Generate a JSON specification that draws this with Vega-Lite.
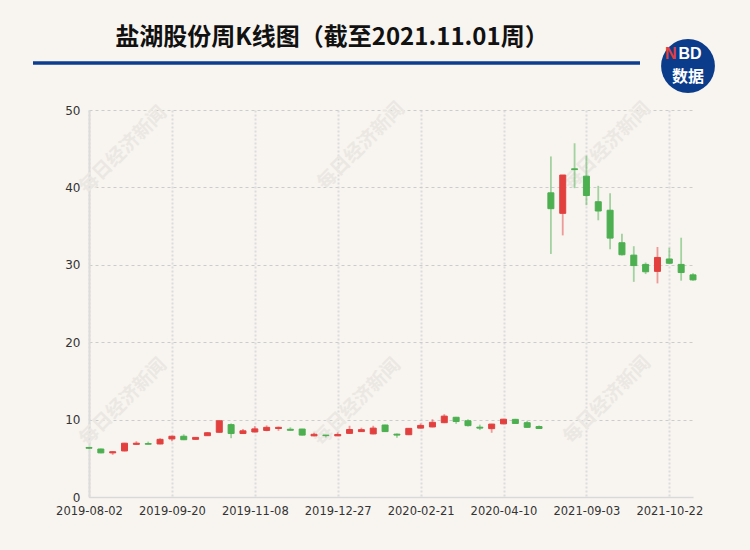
{
  "$schema": "https://vega.github.io/schema/vega-lite/v6.json",
  "autosize": "none",
  "width": 604,
  "height": 387,
  "padding": {"left": 89, "top": 110, "right": 57, "bottom": 53},
  "background": "#f8f5f0",
  "config": {"view": {"stroke": null}},
  "data": {
    "values": [
      {"d": "2019-08-02", "o": 6.4, "c": 6.3, "h": 6.45, "l": 6.2},
      {"d": "2019-08-09", "o": 6.2, "c": 5.7, "h": 6.25, "l": 5.65},
      {"d": "2019-08-16", "o": 5.7, "c": 5.85, "h": 5.9, "l": 5.45},
      {"d": "2019-08-23", "o": 5.95, "c": 6.95, "h": 7.0, "l": 5.9},
      {"d": "2019-08-30", "o": 6.8, "c": 6.95, "h": 7.2, "l": 6.75},
      {"d": "2019-09-06", "o": 6.9, "c": 6.82, "h": 7.15, "l": 6.8},
      {"d": "2019-09-13", "o": 6.85, "c": 7.45, "h": 7.6, "l": 6.8},
      {"d": "2019-09-20", "o": 7.5, "c": 7.85, "h": 7.9, "l": 7.2},
      {"d": "2019-09-27", "o": 7.85, "c": 7.4, "h": 8.1, "l": 7.35},
      {"d": "2019-09-30", "o": 7.45, "c": 7.7, "h": 7.72, "l": 7.42},
      {"d": "2019-10-11", "o": 7.92, "c": 8.3, "h": 8.4, "l": 7.9},
      {"d": "2019-10-18", "o": 8.36, "c": 9.85, "h": 9.9, "l": 8.3},
      {"d": "2019-10-25", "o": 9.35, "c": 8.2, "h": 9.5, "l": 7.6},
      {"d": "2019-11-01", "o": 8.2, "c": 8.55, "h": 8.8, "l": 8.15},
      {"d": "2019-11-08", "o": 8.4, "c": 8.8, "h": 9.15, "l": 8.35},
      {"d": "2019-11-15", "o": 8.6, "c": 9.0, "h": 9.25, "l": 8.5},
      {"d": "2019-11-22", "o": 8.85, "c": 9.0, "h": 9.1, "l": 8.55},
      {"d": "2019-11-29", "o": 8.75, "c": 8.62, "h": 9.0, "l": 8.6},
      {"d": "2019-12-06", "o": 8.78, "c": 8.0, "h": 8.8, "l": 7.95},
      {"d": "2019-12-13", "o": 7.9, "c": 8.1, "h": 8.3, "l": 7.85},
      {"d": "2019-12-20", "o": 8.0, "c": 7.93, "h": 8.02, "l": 7.7},
      {"d": "2019-12-27", "o": 7.9, "c": 8.08, "h": 8.35, "l": 7.88},
      {"d": "2020-01-03", "o": 8.22, "c": 8.72, "h": 9.2, "l": 8.15},
      {"d": "2020-01-10", "o": 8.45, "c": 8.7, "h": 8.95, "l": 8.4},
      {"d": "2020-01-17", "o": 8.15, "c": 8.9, "h": 9.2, "l": 8.1},
      {"d": "2020-01-23", "o": 9.3, "c": 8.45, "h": 9.35, "l": 8.4},
      {"d": "2020-02-07", "o": 8.12, "c": 8.0, "h": 8.2, "l": 7.65},
      {"d": "2020-02-14", "o": 8.05, "c": 8.87, "h": 8.9, "l": 8.0},
      {"d": "2020-02-21", "o": 8.9, "c": 9.25, "h": 9.5, "l": 8.85},
      {"d": "2020-02-28", "o": 9.05, "c": 9.65, "h": 10.05, "l": 9.0},
      {"d": "2020-03-06", "o": 9.6, "c": 10.45, "h": 10.7, "l": 9.55},
      {"d": "2020-03-13", "o": 10.3, "c": 9.75, "h": 10.35, "l": 9.45},
      {"d": "2020-03-20", "o": 9.85, "c": 9.22, "h": 10.05, "l": 9.1},
      {"d": "2020-03-27", "o": 9.02, "c": 8.9, "h": 9.35, "l": 8.65},
      {"d": "2020-04-03", "o": 8.83, "c": 9.42, "h": 9.45, "l": 8.3},
      {"d": "2020-04-10", "o": 9.45, "c": 10.05, "h": 10.1, "l": 9.4},
      {"d": "2020-04-17", "o": 10.03, "c": 9.5, "h": 10.1, "l": 9.45},
      {"d": "2020-04-24", "o": 9.6, "c": 9.0, "h": 9.85, "l": 8.95},
      {"d": "2020-04-30", "o": 9.1, "c": 8.85, "h": 9.25, "l": 8.8},
      {"d": "2021-08-13", "o": 39.3, "c": 37.25, "h": 44.0, "l": 31.4},
      {"d": "2021-08-20", "o": 36.65, "c": 41.6, "h": 41.6, "l": 33.8},
      {"d": "2021-08-27", "o": 42.4, "c": 42.3, "h": 45.7, "l": 39.9},
      {"d": "2021-09-03", "o": 41.45, "c": 38.95, "h": 44.1, "l": 37.7},
      {"d": "2021-09-10", "o": 38.15, "c": 36.95, "h": 40.2, "l": 35.75},
      {"d": "2021-09-17", "o": 37.05, "c": 33.45, "h": 39.25, "l": 32.0},
      {"d": "2021-09-24", "o": 32.85, "c": 31.3, "h": 34.0, "l": 31.2},
      {"d": "2021-09-30", "o": 31.25, "c": 29.9, "h": 32.4, "l": 27.8},
      {"d": "2021-10-08", "o": 30.05, "c": 29.1, "h": 30.3, "l": 28.8},
      {"d": "2021-10-15", "o": 29.15, "c": 30.95, "h": 32.3, "l": 27.6},
      {"d": "2021-10-22", "o": 30.75, "c": 30.2, "h": 32.2, "l": 30.1},
      {"d": "2021-10-29", "o": 30.05, "c": 29.0, "h": 33.5, "l": 27.95},
      {"d": "2021-11-01", "o": 28.7, "c": 28.05, "h": 28.9, "l": 27.95}
    ]
  },
  "encoding": {
    "x": {
      "field": "d",
      "type": "nominal",
      "sort": null,
      "scale": {"type": "point", "padding": 0},
      "axis": {
        "title": null,
        "values": ["2019-08-02", "2019-09-20", "2019-11-08", "2019-12-27", "2020-02-21", "2020-04-10", "2021-09-03", "2021-10-22"],
        "labelAngle": 0,
        "labelFont": "DejaVu Sans",
        "labelFontSize": 11.5,
        "labelColor": "#333333",
        "labelPadding": 8,
        "labelOverlap": false,
        "ticks": false,
        "domainColor": "#d9d9d9",
        "domainWidth": 1.5,
        "grid": true,
        "gridColor": "#dcdcdc",
        "gridWidth": 2,
        "gridDash": [2, 2]
      }
    }
  },
  "layer": [
    {
      "data": {"values": [
        {"t": "每日经济新闻", "px": 34, "py": 40},
        {"t": "每日经济新闻", "px": 272, "py": 36},
        {"t": "每日经济新闻", "px": 518, "py": 36},
        {"t": "每日经济新闻", "px": 34, "py": 292},
        {"t": "每日经济新闻", "px": 268, "py": 292},
        {"t": "每日经济新闻", "px": 518, "py": 290}
      ]},
      "mark": {"type": "text", "font": "Noto Sans CJK SC", "fontSize": 19, "fontWeight": "bold", "angle": -45, "color": "#ebe8e3", "align": "center", "baseline": "middle"},
      "encoding": {
        "x": {"field": "px", "type": "quantitative", "scale": null},
        "y": {"field": "py", "type": "quantitative", "scale": null},
        "text": {"field": "t"}
      }
    },
    {
      "mark": {"type": "rule", "strokeWidth": 1.8, "opacity": 0.5},
      "encoding": {
        "y": {
          "field": "l",
          "type": "quantitative",
          "scale": {"domain": [0, 50], "nice": false},
          "axis": {
            "title": null,
            "values": [0, 10, 20, 30, 40, 50],
            "labelFont": "DejaVu Sans",
            "labelFontSize": 12,
            "labelColor": "#333333",
            "labelPadding": 9,
            "ticks": false,
            "domain": true,
            "domainColor": "#dcdcdc",
            "domainWidth": 2,
            "grid": true,
            "gridColor": "#cccccc",
            "gridWidth": 1,
            "gridDash": [3, 3]
          }
        },
        "y2": {"field": "h"},
        "color": {
          "condition": {"test": "datum.c >= datum.o", "value": "#e2403f"},
          "value": "#4caf50"
        }
      }
    },
    {
      "mark": {"type": "bar", "width": 6, "strokeWidth": 1},
      "encoding": {
        "y": {"field": "o", "type": "quantitative"},
        "y2": {"field": "c"},
        "fill": {
          "condition": {"test": "datum.c >= datum.o", "value": "#e2403f"},
          "value": "#4caf50"
        },
        "stroke": {
          "condition": {"test": "datum.c >= datum.o", "value": "#e2403f"},
          "value": "#4caf50"
        }
      }
    },
    {
      "data": {"values": [{"t": "盐湖股份周K线图（截至2021.11.01周）"}]},
      "mark": {"type": "text", "font": "Noto Sans CJK SC", "fontWeight": "bold", "fontSize": 24, "color": "#111111", "align": "center", "baseline": "middle"},
      "encoding": {
        "x": {"value": 243},
        "y": {"value": -72},
        "text": {"field": "t"}
      }
    },
    {
      "data": {"values": [{"k": "line"}]},
      "mark": {"type": "rule", "color": "#0d3d8e", "strokeWidth": 3.5},
      "encoding": {
        "x": {"value": -56},
        "x2": {"value": 551},
        "y": {"value": -47}
      }
    },
    {
      "data": {"values": [{"k": "logo"}]},
      "mark": {"type": "point", "shape": "circle", "filled": true, "opacity": 1, "color": "#0b3c8c", "size": 2900},
      "encoding": {
        "x": {"value": 599},
        "y": {"value": -44}
      }
    },
    {
      "data": {"values": [{"t": "N"}]},
      "mark": {"type": "text", "font": "Liberation Sans", "fontWeight": "bold", "fontSize": 16, "color": "#e2403f", "align": "right", "baseline": "middle"},
      "encoding": {
        "x": {"value": 587.5},
        "y": {"value": -56},
        "text": {"field": "t"}
      }
    },
    {
      "data": {"values": [{"t": "BD"}]},
      "mark": {"type": "text", "font": "Liberation Sans", "fontWeight": "bold", "fontSize": 16, "color": "#ffffff", "align": "left", "baseline": "middle"},
      "encoding": {
        "x": {"value": 589.5},
        "y": {"value": -56},
        "text": {"field": "t"}
      }
    },
    {
      "data": {"values": [{"t": "数据"}]},
      "mark": {"type": "text", "font": "Noto Sans CJK SC", "fontWeight": "bold", "fontSize": 16, "color": "#ffffff", "align": "center", "baseline": "middle"},
      "encoding": {
        "x": {"value": 599},
        "y": {"value": -33},
        "text": {"field": "t"}
      }
    }
  ]
}
